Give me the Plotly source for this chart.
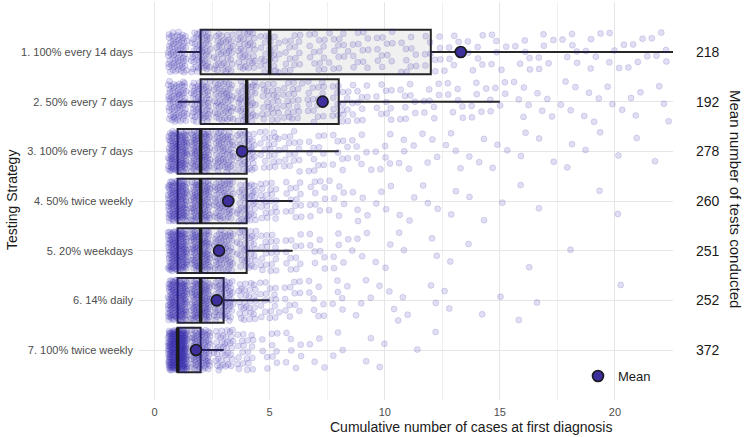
import plotly.graph_objects as go

# ---------------- data ----------------
strategies = ["1. 100% every 14 days", "2. 50% every 7 days", "3. 100% every 7 days",
              "4. 50% twice weekly", "5. 20% weekdays", "6. 14% daily", "7. 100% twice weekly"]
tests_conducted = [218, 192, 278, 260, 251, 252, 372]

q1 = [2, 2, 1, 1, 1, 1, 1]
median = [5, 4, 2, 2, 2, 2, 1]
q3 = [12, 8, 4, 4, 4, 3, 2]
lower_whisker = [1, 1, 1, 1, 1, 1, 1]
upper_whisker = [25, 15, 8, 6, 6, 5, 3]
means = [13.3, 7.3, 3.8, 3.2, 2.8, 2.7, 1.8]

# number of simulated outbreaks at each case count (1..22), per strategy
case_values = list(range(1, 23))
counts_s1 = [65, 55, 40, 35, 25, 16, 14, 13, 12, 11, 10, 10, 7, 7, 6, 6, 6, 6, 5, 5, 5, 5]
counts_s2 = [70, 60, 50, 40, 25, 22, 18, 17, 11, 10, 9, 8, 7, 6, 6, 5, 4, 4, 4, 3, 3, 3]
counts_s3 = [120, 95, 60, 40, 22, 16, 12, 9, 7, 6, 5, 4, 4, 3, 3, 2, 2, 2, 2, 1, 1, 1]
counts_s4 = [130, 95, 60, 40, 22, 14, 10, 7, 5, 4, 3, 3, 2, 2, 1, 1, 1, 0, 1, 1, 0, 0]
counts_s5 = [140, 100, 60, 35, 20, 12, 8, 6, 4, 3, 2, 2, 1, 1, 0, 1, 0, 1, 0, 0, 0, 0]
counts_s6 = [145, 105, 60, 30, 18, 12, 8, 6, 4, 3, 3, 2, 2, 1, 1, 1, 1, 0, 0, 1, 0, 0]
counts_s7 = [220, 90, 40, 20, 10, 7, 4, 3, 2, 2, 1, 1, 0, 0, 0, 0, 0, 0, 0, 0, 0, 0]
all_counts = [counts_s1, counts_s2, counts_s3, counts_s4, counts_s5, counts_s6, counts_s7]

# ---------------- layout helpers ----------------
W, H = 747, 437
L, R, T, B = 138, 74, 2, 37
pw, ph = W - L - R, H - T - B
ypos = list(range(1, len(strategies) + 1))
unit = (350 - 52) / 6.0                # px per category in the reference
y_top = 1 - (52 - T) / unit
y_bot = y_top + ph / unit

def px_x(p):
    return (p - L) / pw

def px_y(p):
    return (H - B - p) / ph

# deterministic jitter (low-discrepancy sequence) around integer counts
a1, a2 = 0.7548776662466927, 0.5698402909980532
jx, jy = [], []
g = 0
for yi, counts in zip(ypos, all_counts):
    for v, c in zip(case_values, counts):
        for _ in range(c):
            g += 1
            jx.append(v + ((g * a1) % 1 - 0.5) * 0.84)
            jy.append(yi + ((g * a2 + 0.31) % 1 - 0.5) * 0.82)

fig = go.Figure()

# box fills (under points)
fig.add_trace(go.Box(
    y=ypos, q1=q1, median=median, q3=q3, lowerfence=lower_whisker, upperfence=upper_whisker,
    orientation="h", width=0.9, fillcolor="rgba(238,238,238,0.9)",
    line=dict(color="rgba(0,0,0,0)", width=0), whiskerwidth=0, showlegend=False, hoverinfo="skip"))

# jittered points
fig.add_trace(go.Scatter(
    x=jx, y=jy, mode="markers", showlegend=False, hoverinfo="skip",
    marker=dict(size=6, color="rgba(45,35,170,0.15)",
                line=dict(color="rgba(45,35,170,0.18)", width=0.8))))

# box outlines (over points)
fig.add_trace(go.Box(
    y=ypos, q1=q1, median=median, q3=q3, lowerfence=lower_whisker, upperfence=upper_whisker,
    orientation="h", width=0.9, fillcolor="rgba(0,0,0,0)",
    line=dict(color="#262626", width=2), whiskerwidth=0, showlegend=False, hoverinfo="skip"))

# thicker median bars
mx, my = [], []
for yi, m in zip(ypos, median):
    mx += [m, m, None]
    my += [yi - 0.45, yi + 0.45, None]
fig.add_trace(go.Scatter(x=mx, y=my, mode="lines", line=dict(color="#1a1a1a", width=3.5),
                         showlegend=False, hoverinfo="skip"))

# means
fig.add_trace(go.Scatter(
    x=means, y=ypos, mode="markers", name="Mean",
    marker=dict(size=11, color="#3d2f9c", line=dict(color="#1a1a1a", width=1.6))))

# right-hand numbers
for yi, t in zip(ypos, tests_conducted):
    fig.add_annotation(x=px_x(708), y=yi, xref="paper", yref="y", text=str(t),
                       xanchor="center", yanchor="middle",
                       showarrow=False, font=dict(size=14, color="#1a1a1a"))

fig.add_annotation(x=px_x(736), y=px_y(199), xref="paper", yref="paper",
                   xanchor="center", yanchor="middle",
                   text="Mean number of tests conducted", textangle=90, showarrow=False,
                   font=dict(size=15, color="#1a1a1a"))
fig.add_annotation(x=px_x(12), y=px_y(200), xref="paper", yref="paper",
                   xanchor="center", yanchor="middle",
                   text="Testing Strategy", textangle=-90, showarrow=False,
                   font=dict(size=14, color="#1a1a1a"))
fig.add_annotation(x=px_x(471), y=px_y(427), xref="paper", yref="paper",
                   xanchor="center", yanchor="middle",
                   text="Cumulative number of cases at first diagnosis", showarrow=False,
                   font=dict(size=14, color="#1a1a1a"))

fig.update_layout(
    width=W, height=H,
    margin=dict(l=L, r=R, t=T, b=B, autoexpand=False),
    paper_bgcolor="white", plot_bgcolor="white",
    font=dict(family="Liberation Sans, Arial, sans-serif", color="#4d4d4d", size=11),
    showlegend=True,
    legend=dict(x=px_x(578), y=px_y(376), xanchor="left", yanchor="middle",
                bgcolor="rgba(0,0,0,0)", font=dict(size=13, color="#1a1a1a")),
    xaxis=dict(range=[-0.72, 22.52], tickvals=[0, 5, 10, 15, 20], showgrid=True,
               gridcolor="#e6e6e6", gridwidth=1, zeroline=False, showline=False, ticks="",
               automargin=False, ticklabelstandoff=4, tickfont=dict(size=11, color="#4d4d4d"),
               minor=dict(tickvals=[2.5, 7.5, 12.5, 17.5, 22.5], showgrid=True,
                          gridcolor="#f0f0f0", gridwidth=0.8)),
    yaxis=dict(range=[y_bot, y_top], tickvals=ypos, ticktext=strategies, showgrid=True,
               gridcolor="#e6e6e6", gridwidth=1, zeroline=False, showline=False, ticks="",
               automargin=False, ticklabelstandoff=4, tickfont=dict(size=11, color="#4d4d4d")),
)

# remove the default 8px page margin so the figure sits at the window's corner
fig.write_html("out.html", config={"displayModeBar": False},
               post_script="document.body.style.margin='0';")
